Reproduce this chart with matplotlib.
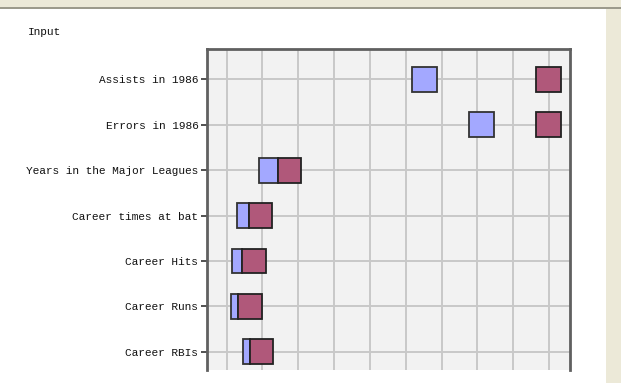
import matplotlib
matplotlib.use("Agg")
import matplotlib.pyplot as plt
from matplotlib.patches import Rectangle

# rows of the "Input" chart, top to bottom
labels = ["Assists in 1986", "Errors in 1986", "Years in the Major Leagues",
          "Career times at bat", "Career Hits", "Career Runs", "Career RBIs"]
# blue box: start/end, red box: start/end (x in grid units)
blue_lo = [5.18, 6.76, 0.90, 0.30, 0.15, 0.11, 0.47]
blue_hi = [5.88, 7.46, 1.43, 0.62, 0.43, 0.31, 0.65]
red_lo = [8.65, 8.65, 1.43, 0.62, 0.43, 0.31, 0.65]
red_hi = [9.34, 9.34, 2.08, 1.27, 1.09, 0.99, 1.30]

BLUE, RED = "#a3a8ff", "#b0587a"
BEIGE = "#ece9d8"

fig = plt.figure(figsize=(6.21, 3.83), dpi=100)
fig.patch.set_facecolor("white")
# window chrome: beige strip on top and right, gray line under the top strip
fig.add_artist(Rectangle((0, 1 - 7 / 383), 1, 7 / 383, transform=fig.transFigure,
                         facecolor=BEIGE, edgecolor="none"))
fig.add_artist(Rectangle((0, 1 - 9 / 383), 1, 2 / 383, transform=fig.transFigure,
                         facecolor="#9c9a8c", edgecolor="none"))
fig.add_artist(Rectangle((606 / 621, 0), 15 / 621, 1 - 9 / 383, transform=fig.transFigure,
                         facecolor=BEIGE, edgecolor="none"))

fig.text(28 / 621, 1 - 32 / 383, "Input", family="Liberation Mono", fontsize=8,
         va="center", ha="left", color="#111111")

ax = fig.add_axes([206.7 / 621, 1 - 370 / 383, 363 / 621, 321 / 383])
ax.set_facecolor("#f2f2f2")
y = list(range(len(labels)))
h = 0.545
ax.barh(y, [b - a for a, b in zip(blue_lo, blue_hi)], left=blue_lo, height=h,
        color=BLUE, edgecolor="#333333", linewidth=1.3, zorder=3)
ax.barh(y, [b - a for a, b in zip(red_lo, red_hi)], left=red_lo, height=h,
        color=RED, edgecolor="#222222", linewidth=1.3, zorder=3)

ax.set_xlim(-0.556, 9.578)
ax.set_ylim(6.40, -0.667)
ax.set_xticks(range(10))
ax.set_yticks(y)
ax.set_yticklabels(labels, family="Liberation Mono", fontsize=8, color="#111111")
ax.tick_params(axis="x", length=0, labelbottom=False)
ax.tick_params(axis="y", length=4, width=1.2, color="#333333", pad=2)
ax.grid(True, color="#c8c8c8", linewidth=1.4, zorder=1)
ax.set_axisbelow(True)
for s in ("left", "right", "top"):
    ax.spines[s].set_color("#606060")
    ax.spines[s].set_linewidth(2)
ax.spines["bottom"].set_visible(False)

fig.savefig("out.png", dpi=100, facecolor=fig.get_facecolor())
